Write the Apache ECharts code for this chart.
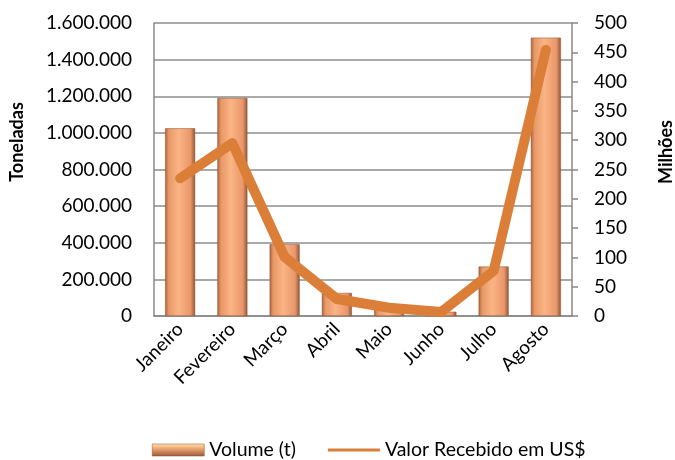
<!DOCTYPE html>
<html lang="pt-br">
<head>
    <meta charset="utf-8">
    <title>Volume e Valor</title>
    <script src="https://cdn.jsdelivr.net/npm/echarts@6/dist/echarts.min.js"></script>
</head>
<body style="margin:0">
    <div id="main" style="width: 675px;height:460px;"></div>
    <script type="text/javascript">
        // dados
        var meses = ['Janeiro', 'Fevereiro', 'Março', 'Abril', 'Maio', 'Junho', 'Julho', 'Agosto'];
        var volume = [1025000, 1190000, 392000, 126000, 60000, 23000, 270000, 1520000];
        var valor = [235, 295, 101, 29, 14, 7, 77, 454];

        var myChart = echarts.init(document.getElementById('main'));

        var fonte = 'Lato';
        function milhar(v) {
            return String(v).replace(/\B(?=(\d{3})+(?!\d))/g, '.');
        }

        var gradBarra = new echarts.graphic.LinearGradient(0, 0, 1, 0, [
            { offset: 0, color: '#a9633f' },
            { offset: 0.12, color: '#e89866' },
            { offset: 0.45, color: '#fbb485' },
            { offset: 0.85, color: '#e9976a' },
            { offset: 1, color: '#8f5535' }
        ]);
        var gradLegenda = new echarts.graphic.LinearGradient(0, 0, 0, 1, [
            { offset: 0, color: '#fde7b0' },
            { offset: 0.3, color: '#f7b27e' },
            { offset: 1, color: '#9a5a38' }
        ]);

        var option = {
            animation: false,
            grid: { left: 154, right: 103, top: 23, bottom: 144 },
            legend: {
                top: 435,
                left: 147,
                itemGap: 32,
                itemWidth: 52,
                itemHeight: 12,
                textStyle: { fontFamily: fonte, fontSize: 19.5, color: '#000' },
                data: [
                    { name: 'Volume (t)', icon: 'rect', itemStyle: { color: gradLegenda, borderColor: '#8a5133', borderWidth: 0.5 } },
                    { name: 'Valor Recebido em US$', icon: 'path://M0,0h52v3h-52z', itemStyle: { color: '#db7f38' } }
                ]
            },
            xAxis: {
                type: 'category',
                data: meses,
                axisLine: { lineStyle: { color: '#888', width: 1.5 } },
                axisTick: { show: false },
                axisLabel: {
                    rotate: 45,
                    interval: 0,
                    margin: 10,
                    fontFamily: fonte,
                    fontSize: 19,
                    color: '#000'
                }
            },
            yAxis: [{
                type: 'value',
                min: 0,
                max: 1600000,
                interval: 200000,
                axisLine: { show: true, lineStyle: { color: '#888', width: 1.5 } },
                axisTick: { show: false },
                splitLine: { lineStyle: { color: '#8c8c8c', width: 1.5 } },
                axisLabel: {
                    fontFamily: fonte,
                    fontSize: 19,
                    color: '#000',
                    margin: 22,
                    formatter: milhar
                }
            }, {
                type: 'value',
                min: 0,
                max: 500,
                interval: 50,
                axisLine: { show: true, lineStyle: { color: '#888', width: 1.5 } },
                axisTick: { show: true, length: 6, lineStyle: { color: '#888', width: 1.5 } },
                splitLine: { show: false },
                axisLabel: {
                    fontFamily: fonte,
                    fontSize: 19,
                    color: '#000',
                    margin: 22
                }
            }],
            graphic: [{
                type: 'text',
                x: 8,
                y: 142,
                rotation: Math.PI / 2,
                style: {
                    text: 'Toneladas',
                    fontFamily: fonte,
                    fontWeight: 'bold',
                    fontSize: 18,
                    fill: '#000',
                    align: 'center',
                    verticalAlign: 'top'
                }
            }, {
                type: 'text',
                x: 657,
                y: 152,
                rotation: Math.PI / 2,
                style: {
                    text: 'Milhões',
                    fontFamily: fonte,
                    fontWeight: 'bold',
                    fontSize: 18,
                    fill: '#000',
                    align: 'center',
                    verticalAlign: 'top'
                }
            }],
            series: [{
                name: 'Volume (t)',
                type: 'bar',
                yAxisIndex: 0,
                barWidth: 30,
                data: volume,
                itemStyle: {
                    color: gradBarra,
                    borderColor: '#8a5133',
                    borderWidth: 0.5
                }
            }, {
                name: 'Valor Recebido em US$',
                type: 'line',
                yAxisIndex: 1,
                data: valor,
                showSymbol: false,
                symbol: 'none',
                color: '#db7f38',
                lineStyle: { width: 10, color: '#db7f38', cap: 'round', join: 'round' }
            }]
        };

        myChart.setOption(option);
    </script>
</body>
</html>
